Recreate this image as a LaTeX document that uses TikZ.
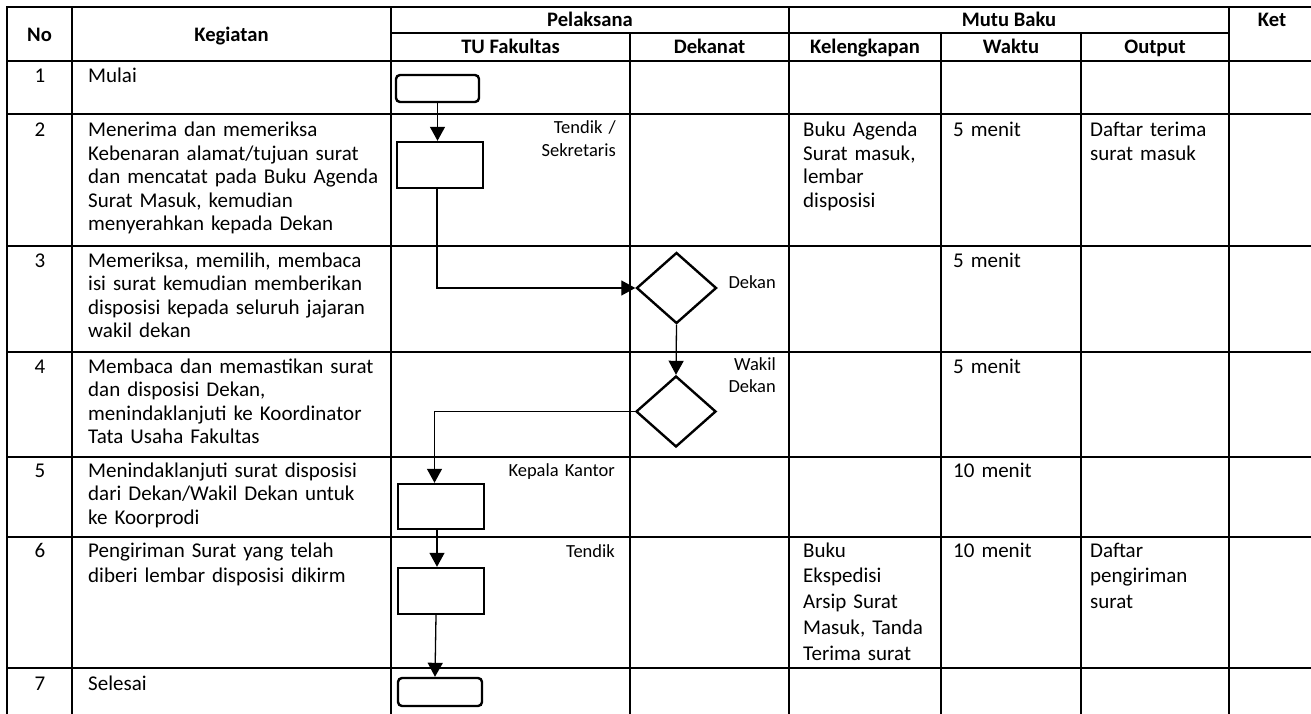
\documentclass[tikz,border=0pt]{standalone}
\usepackage{fontspec}
\setmainfont{Carlito}
\usetikzlibrary{shapes.geometric,arrows.meta}
\begin{document}
\begin{tikzpicture}[x=1pt,y=-1pt,
  tbl/.style={line width=2.2pt, line cap=rect},
  hdr/.style={font=\bfseries\fontsize{20.6}{24}\selectfont, anchor=base, inner sep=0pt},
  num/.style={font=\fontsize{21}{23.5}\selectfont, anchor=base, inner sep=0pt},
  cell/.style={font=\fontsize{21}{23.5}\selectfont, anchor=base west, inner sep=0pt, text width=300pt, align=left},
  cellw/.style={font=\fontsize{21}{25.8}\selectfont, anchor=base west, inner sep=0pt, text width=300pt, align=left},
  lbl/.style={font=\fontsize{18.5}{22.7}\selectfont, anchor=base east, inner sep=0pt, text width=150pt, align=right},
  term/.style={draw, line width=2.4pt, rounded corners=4pt, inner sep=0pt},
  procbox/.style={draw, line width=2.4pt, inner sep=0pt, minimum width=86pt, minimum height=46pt},
  decide/.style={draw, diamond, line width=2.4pt, inner sep=0pt, minimum width=80pt, minimum height=71pt},
  flow/.style={line width=1.3pt, -{Triangle[length=14pt,width=15pt]}}
]
\clip (0,0) rectangle (1311,714);
\fill[white] (0,0) rectangle (1311,714);

% table grid
\draw[tbl] (7,7) -- (1320,7);
\draw[tbl] (391,33) -- (1229,33);
\foreach \yy in {61,114,246,352,457,537,668} {\draw[tbl] (7,\yy) -- (1320,\yy);}
\foreach \xx in {7,72,391,789,1229} {\draw[tbl] (\xx,7) -- (\xx,720);}
\foreach \xx in {630,941,1081} {\draw[tbl] (\xx,33) -- (\xx,720);}

% headers
\node[hdr] (hNo) at (39.5,41.5) {No};
\node[hdr] (hKeg) at (231.5,41.5) {Kegiatan};
\node[hdr] (hPel) at (590,27) {Pelaksana};
\node[hdr] (hTU) at (510.5,54) {TU Fakultas};
\node[hdr] (hDek) at (709.5,54) {Dekanat};
\node[hdr] (hMutu) at (1009,27) {Mutu Baku};
\node[hdr] (hKel) at (865,54) {Kelengkapan};
\node[hdr] (hWak) at (1011,54) {Waktu};
\node[hdr] (hOut) at (1155,54) {Output};
\node[hdr] (hKet) at (1272,27) {Ket};

% numbers
\node[num] (n1) at (40,83) {1};
\node[num] (n2) at (40,137) {2};
\node[num] (n3) at (40,267) {3};
\node[num] (n4) at (40,373) {4};
\node[num] (n5) at (40,477) {5};
\node[num] (n6) at (40,557) {6};
\node[num] (n7) at (40,690) {7};

% kegiatan
\node[cell] (k1) at (88,83) {Mulai};
\node[cell] (k2) at (88,137) {Menerima dan memeriksa\\Kebenaran alamat/tujuan surat\\dan mencatat pada Buku Agenda\\Surat Masuk, kemudian\\menyerahkan kepada Dekan};
\node[cell] (k3) at (88,267) {Memeriksa, memilih, membaca\\isi surat kemudian memberikan\\disposisi kepada seluruh jajaran\\wakil dekan};
\node[cell] (k4) at (88,373) {Membaca dan memastikan surat\\dan disposisi Dekan,\\menindaklanjuti ke Koordinator\\Tata Usaha Fakultas};
\node[cell] (k5) at (88,477) {Menindaklanjuti surat disposisi\\dari Dekan/Wakil Dekan untuk\\ke Koorprodi};
\node[cellw] (k6) at (88,557) {Pengiriman Surat yang telah\\diberi lembar disposisi dikirm};
\node[cell] (k7) at (88,690) {Selesai};

% mutu baku
\node[cell] (kel2) at (803,137) {Buku Agenda\\Surat masuk,\\lembar\\disposisi};
\node[cell] (w2) at (953,137) {5 menit};
\node[cell] (o2) at (1090,137) {Daftar terima\\surat masuk};
\node[cell] (w3) at (953,267) {5 menit};
\node[cell] (w4) at (953,373) {5 menit};
\node[cell] (w5) at (953,477) {10 menit};
\node[cellw] (kel6) at (803,557) {Buku\\Ekspedisi\\Arsip Surat\\Masuk, Tanda\\Terima surat};
\node[cell] (w6) at (953,557) {10 menit};
\node[cellw] (o6) at (1090,557) {Daftar\\pengiriman\\surat};

% flowchart shapes
\node[term, minimum width=83pt, minimum height=27pt] (start) at (437.5,88.5) {};
\node[procbox] (box2) at (440,165) {};
\node[decide] (dekan) at (676.5,288) {};
\node[decide] (wakil) at (676,411.5) {};
\node[procbox, minimum height=45pt] (box5) at (441,506.5) {};
\node[procbox] (box6) at (441,591) {};
\node[term, minimum width=84pt, minimum height=28pt] (finish) at (440,692) {};

% labels
\node[lbl] (l2) at (616,134) {Tendik /\\Sekretaris};
\node[lbl] (l3) at (776,288) {Dekan};
\node[lbl] (l4) at (776,370) {Wakil\\Dekan};
\node[lbl] (l5) at (615,476) {Kepala Kantor};
\node[lbl] (l6) at (615,557) {Tendik};

% connectors
\draw[flow] (start.south) -- (start.south |- box2.north);
\draw[flow] ([xshift=-3pt]box2.south) |- (dekan.west);
\draw[flow] (dekan.south) -- (wakil.north);
\draw[flow] (wakil.west) -| ([xshift=-6.5pt]box5.north);
\draw[flow] ([xshift=-4pt]box5.south) -- ([xshift=-4pt]box6.north);
\draw[flow] ([xshift=-5pt]box6.south) -- ([xshift=-5pt]finish.north);
\end{tikzpicture}
\end{document}
